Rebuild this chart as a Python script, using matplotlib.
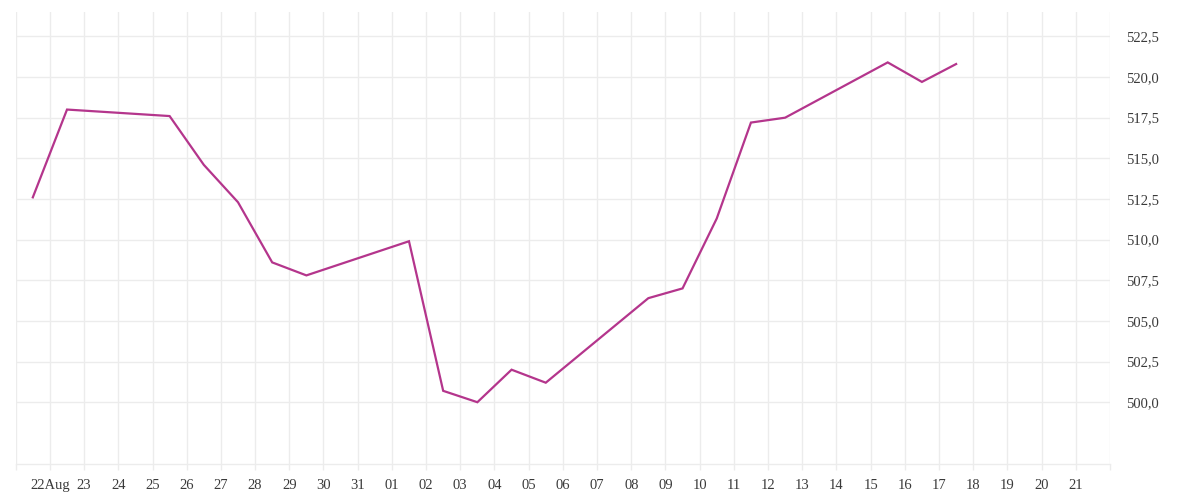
import matplotlib

matplotlib.use("Agg")
import matplotlib.pyplot as plt
import matplotlib.ticker as mticker
import pandas as pd

# price points (plotted at midday)
dates = pd.to_datetime([
    "2024-08-21 12:00", "2024-08-22 12:00", "2024-08-25 12:00", "2024-08-26 12:00",
    "2024-08-27 12:00", "2024-08-28 12:00", "2024-08-29 12:00", "2024-09-01 12:00",
    "2024-09-02 12:00", "2024-09-03 12:00", "2024-09-04 12:00", "2024-09-05 12:00",
    "2024-09-08 12:00", "2024-09-09 12:00", "2024-09-10 12:00", "2024-09-11 12:00",
    "2024-09-12 12:00", "2024-09-15 12:00", "2024-09-16 12:00", "2024-09-17 12:00",
])
values = [
    512.6, 518.0, 517.6, 514.6, 512.3, 508.6, 507.8, 509.9,
    500.7, 500.0, 502.0, 501.2, 506.4, 507.0, 511.3, 517.2,
    517.5, 520.9, 519.7, 520.8,
]

x_start, x_end = pd.Timestamp("2024-08-21"), pd.Timestamp("2024-09-22")
y_ticks = [500.0, 502.5, 505.0, 507.5, 510.0, 512.5, 515.0, 517.5, 520.0, 522.5]
y_lim = (496.2, 524.0)

LINE = "#b4358c"
GRID = "#ececec"
TEXT = "#3a3a3a"

plt.rcParams["font.family"] = ["Liberation Serif", "DejaVu Serif"]

fig = plt.figure(figsize=(12, 5), dpi=100)
ax = fig.add_axes([0.0131, 0.072, 0.9119, 0.904])

ax.plot(dates, values, color=LINE, lw=1.6, solid_joinstyle="miter", zorder=3)

ax.set_xlim(x_start, x_end)
ax.set_ylim(*y_lim)

# one tick per day; the edge days get gridlines but no label
days = pd.date_range(x_start, x_end, freq="D")
ax.set_xticks(days)
labels = []
for d in days:
    if d == x_start or d == x_end:
        labels.append("")
    elif d == pd.Timestamp("2024-08-22"):
        labels.append(d.strftime("%d%b"))
    else:
        labels.append(d.strftime("%d"))
ax.set_xticklabels(labels)

ax.yaxis.tick_right()
ax.set_yticks(y_ticks)
ax.yaxis.set_major_formatter(
    mticker.FuncFormatter(lambda v, _: f"{v:.1f}".replace(".", ",")))

ax.grid(True, color=GRID, lw=1.0, zorder=0)
ax.set_axisbelow(True)
ax.tick_params(axis="x", length=4, width=1.0, color=GRID, labelsize=10.5,
               labelcolor=TEXT, pad=6.5)
ax.tick_params(axis="y", length=0, labelsize=10.5, labelcolor=TEXT, pad=11.5)

for side in ("top", "left", "right"):
    ax.spines[side].set_visible(False)
ax.spines["bottom"].set_color(GRID)
ax.spines["bottom"].set_linewidth(1.0)

fig.savefig("out.png", facecolor="white")
plt.close(fig)
